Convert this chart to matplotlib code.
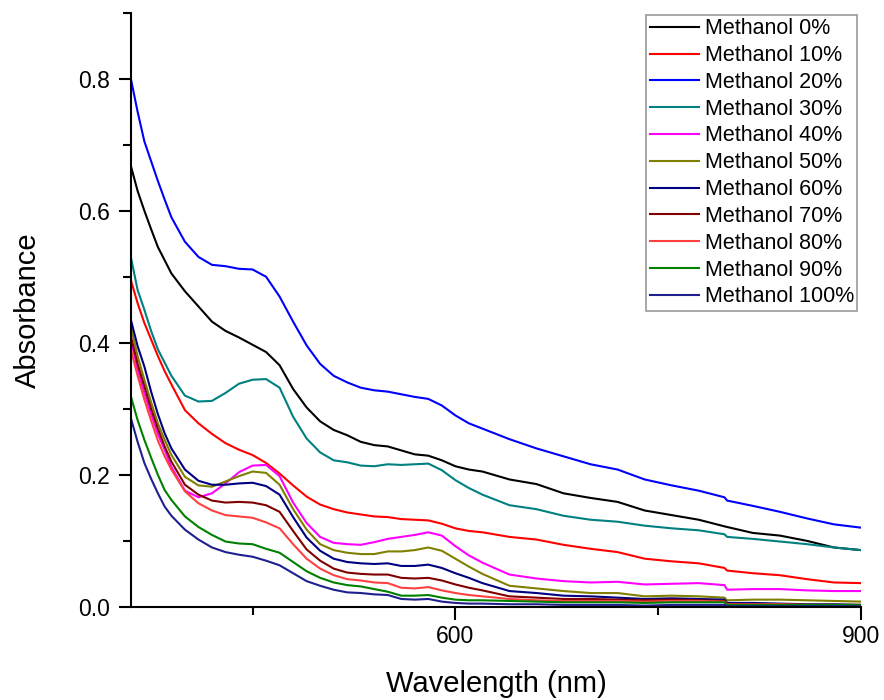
import matplotlib
matplotlib.use("Agg")
import matplotlib.pyplot as plt
from matplotlib.ticker import MultipleLocator

plt.rcParams['font.family'] = ['Liberation Sans', 'DejaVu Sans']

# -------- DATA --------
wavelength = [360, 365, 370, 375, 380, 385, 390, 400, 410, 420, 430, 440, 450,
              460, 470, 480, 490, 500, 510, 520, 530, 540, 550, 560, 570, 580,
              590, 600, 610, 620, 640, 660, 680, 700, 720, 740, 760, 780, 799,
              801, 820, 840, 860, 880, 900]

meoh_0 = [0.668, 0.630, 0.600, 0.572, 0.545, 0.525, 0.505, 0.478, 0.455, 0.432,
          0.418, 0.408, 0.397, 0.386, 0.366, 0.330, 0.302, 0.281, 0.268, 0.260,
          0.250, 0.245, 0.243, 0.237, 0.231, 0.229, 0.222, 0.213, 0.208, 0.205,
          0.193, 0.186, 0.172, 0.165, 0.159, 0.146, 0.139, 0.132, 0.122, 0.121,
          0.112, 0.108, 0.100, 0.090, 0.086]
meoh_10 = [0.495, 0.460, 0.430, 0.405, 0.380, 0.357, 0.337, 0.298, 0.278, 0.262,
           0.248, 0.238, 0.230, 0.218, 0.202, 0.184, 0.167, 0.155, 0.148, 0.143,
           0.140, 0.137, 0.136, 0.133, 0.132, 0.131, 0.126, 0.119, 0.115, 0.113,
           0.106, 0.102, 0.094, 0.088, 0.083, 0.073, 0.069, 0.066, 0.059, 0.055,
           0.051, 0.048, 0.042, 0.037, 0.036]
meoh_20 = [0.800, 0.750, 0.705, 0.675, 0.645, 0.617, 0.590, 0.553, 0.530, 0.518,
           0.516, 0.512, 0.511, 0.500, 0.470, 0.432, 0.396, 0.368, 0.350, 0.340,
           0.332, 0.328, 0.326, 0.322, 0.318, 0.315, 0.305, 0.290, 0.278, 0.270,
           0.254, 0.240, 0.228, 0.216, 0.208, 0.193, 0.184, 0.176, 0.166, 0.161,
           0.153, 0.144, 0.134, 0.125, 0.120]
meoh_30 = [0.530, 0.480, 0.450, 0.418, 0.390, 0.370, 0.350, 0.320, 0.311, 0.312,
           0.324, 0.338, 0.344, 0.345, 0.332, 0.288, 0.255, 0.234, 0.222, 0.219,
           0.214, 0.213, 0.216, 0.215, 0.216, 0.217, 0.207, 0.192, 0.180, 0.170,
           0.154, 0.148, 0.138, 0.132, 0.129, 0.123, 0.119, 0.116, 0.110, 0.106,
           0.103, 0.099, 0.095, 0.090, 0.086]
meoh_40 = [0.405, 0.360, 0.324, 0.292, 0.262, 0.238, 0.212, 0.176, 0.166, 0.172,
           0.187, 0.204, 0.214, 0.215, 0.198, 0.158, 0.127, 0.106, 0.097, 0.095,
           0.094, 0.098, 0.103, 0.106, 0.109, 0.113, 0.108, 0.092, 0.078, 0.067,
           0.049, 0.043, 0.039, 0.037, 0.038, 0.034, 0.035, 0.036, 0.033, 0.026,
           0.027, 0.027, 0.025, 0.024, 0.024]
meoh_50 = [0.425, 0.380, 0.344, 0.310, 0.278, 0.253, 0.230, 0.197, 0.184, 0.182,
           0.190, 0.198, 0.205, 0.203, 0.185, 0.148, 0.117, 0.095, 0.086, 0.082,
           0.080, 0.080, 0.084, 0.084, 0.086, 0.090, 0.085, 0.073, 0.061, 0.050,
           0.032, 0.028, 0.024, 0.021, 0.021, 0.016, 0.017, 0.016, 0.014, 0.010,
           0.011, 0.011, 0.010, 0.009, 0.008]
meoh_60 = [0.435, 0.395, 0.364, 0.326, 0.292, 0.263, 0.240, 0.208, 0.191, 0.185,
           0.185, 0.187, 0.188, 0.183, 0.170, 0.136, 0.105, 0.085, 0.073, 0.068,
           0.066, 0.065, 0.066, 0.062, 0.062, 0.064, 0.059, 0.051, 0.044, 0.036,
           0.024, 0.021, 0.017, 0.016, 0.014, 0.012, 0.013, 0.012, 0.011, 0.006,
           0.006, 0.005, 0.004, 0.004, 0.003]
meoh_70 = [0.410, 0.368, 0.334, 0.300, 0.270, 0.243, 0.220, 0.185, 0.170, 0.161,
           0.158, 0.159, 0.158, 0.154, 0.144, 0.115, 0.087, 0.070, 0.058, 0.052,
           0.050, 0.049, 0.049, 0.044, 0.043, 0.044, 0.040, 0.034, 0.029, 0.025,
           0.016, 0.014, 0.012, 0.012, 0.011, 0.010, 0.011, 0.010, 0.009, 0.004,
           0.004, 0.004, 0.003, 0.003, 0.003]
meoh_80 = [0.390, 0.350, 0.314, 0.282, 0.252, 0.228, 0.208, 0.175, 0.157, 0.146,
           0.139, 0.137, 0.135, 0.128, 0.119, 0.095, 0.073, 0.058, 0.048, 0.042,
           0.040, 0.037, 0.036, 0.029, 0.028, 0.030, 0.025, 0.021, 0.018, 0.016,
           0.012, 0.010, 0.009, 0.009, 0.009, 0.008, 0.009, 0.009, 0.008, 0.004,
           0.004, 0.004, 0.003, 0.003, 0.003]
meoh_90 = [0.319, 0.283, 0.253, 0.226, 0.200, 0.177, 0.162, 0.137, 0.121, 0.109,
           0.099, 0.096, 0.095, 0.088, 0.082, 0.068, 0.054, 0.044, 0.037, 0.033,
           0.031, 0.027, 0.023, 0.017, 0.017, 0.018, 0.014, 0.011, 0.010, 0.010,
           0.009, 0.008, 0.007, 0.007, 0.007, 0.006, 0.007, 0.007, 0.007, 0.003,
           0.003, 0.003, 0.003, 0.003, 0.003]
meoh_100 = [0.286, 0.250, 0.218, 0.194, 0.172, 0.152, 0.138, 0.117, 0.102, 0.090,
            0.083, 0.079, 0.076, 0.070, 0.063, 0.051, 0.039, 0.032, 0.026, 0.022,
            0.021, 0.019, 0.018, 0.012, 0.011, 0.012, 0.008, 0.006, 0.005, 0.005,
            0.004, 0.004, 0.003, 0.003, 0.003, 0.002, 0.003, 0.003, 0.003, 0.001,
            0.001, 0.001, 0.001, 0.001, 0.001]

labels = ["Methanol 0%", "Methanol 10%", "Methanol 20%", "Methanol 30%",
          "Methanol 40%", "Methanol 50%", "Methanol 60%", "Methanol 70%",
          "Methanol 80%", "Methanol 90%", "Methanol 100%"]
series = [meoh_0, meoh_10, meoh_20, meoh_30, meoh_40, meoh_50,
          meoh_60, meoh_70, meoh_80, meoh_90, meoh_100]
colors = ["#000000", "#FF0000", "#0000FF", "#008080", "#FF00FF", "#808000",
          "#000080", "#800000", "#FF4040", "#008000", "#1F1F90"]

# -------- PLOT --------
fig = plt.figure(figsize=(8.84, 7.0), dpi=100)
ax = fig.add_axes([0.148, 0.133, 0.826, 0.849])

for y, c, lab in zip(series, colors, labels):
    ax.plot(wavelength, y, color=c, lw=1.5, label=lab)

ax.set_xlim(360, 900)
ax.set_ylim(0, 0.9)
ax.xaxis.set_major_locator(MultipleLocator(300))
ax.xaxis.set_minor_locator(MultipleLocator(150))
ax.yaxis.set_major_locator(MultipleLocator(0.2))
ax.yaxis.set_minor_locator(MultipleLocator(0.1))
ax.yaxis.set_major_formatter(matplotlib.ticker.FormatStrFormatter('%.1f'))

for side in ("top", "right"):
    ax.spines[side].set_visible(False)
for side in ("left", "bottom"):
    ax.spines[side].set_linewidth(1.5)

ax.tick_params(which="major", direction="out", length=9, width=1.5,
               labelsize=16.5, pad=4)
ax.tick_params(axis="y", which="major", pad=6)
ax.tick_params(which="minor", direction="out", length=5.5, width=1.5)

ax.set_xlabel("Wavelength (nm)", fontsize=21, labelpad=16)
ax.set_ylabel("Absorbance", fontsize=21, labelpad=26)

leg = ax.legend(loc="upper right", bbox_to_anchor=(857 / 884, 1 - 15 / 700),
                bbox_transform=fig.transFigure, fontsize=15.5,
                frameon=True, fancybox=False, edgecolor="#808080",
                handlelength=2.3, handletextpad=0.25, labelspacing=0.27,
                borderpad=0.15, borderaxespad=0.0)
leg.get_frame().set_linewidth(1.2)

fig.savefig("out.png", dpi=100)
